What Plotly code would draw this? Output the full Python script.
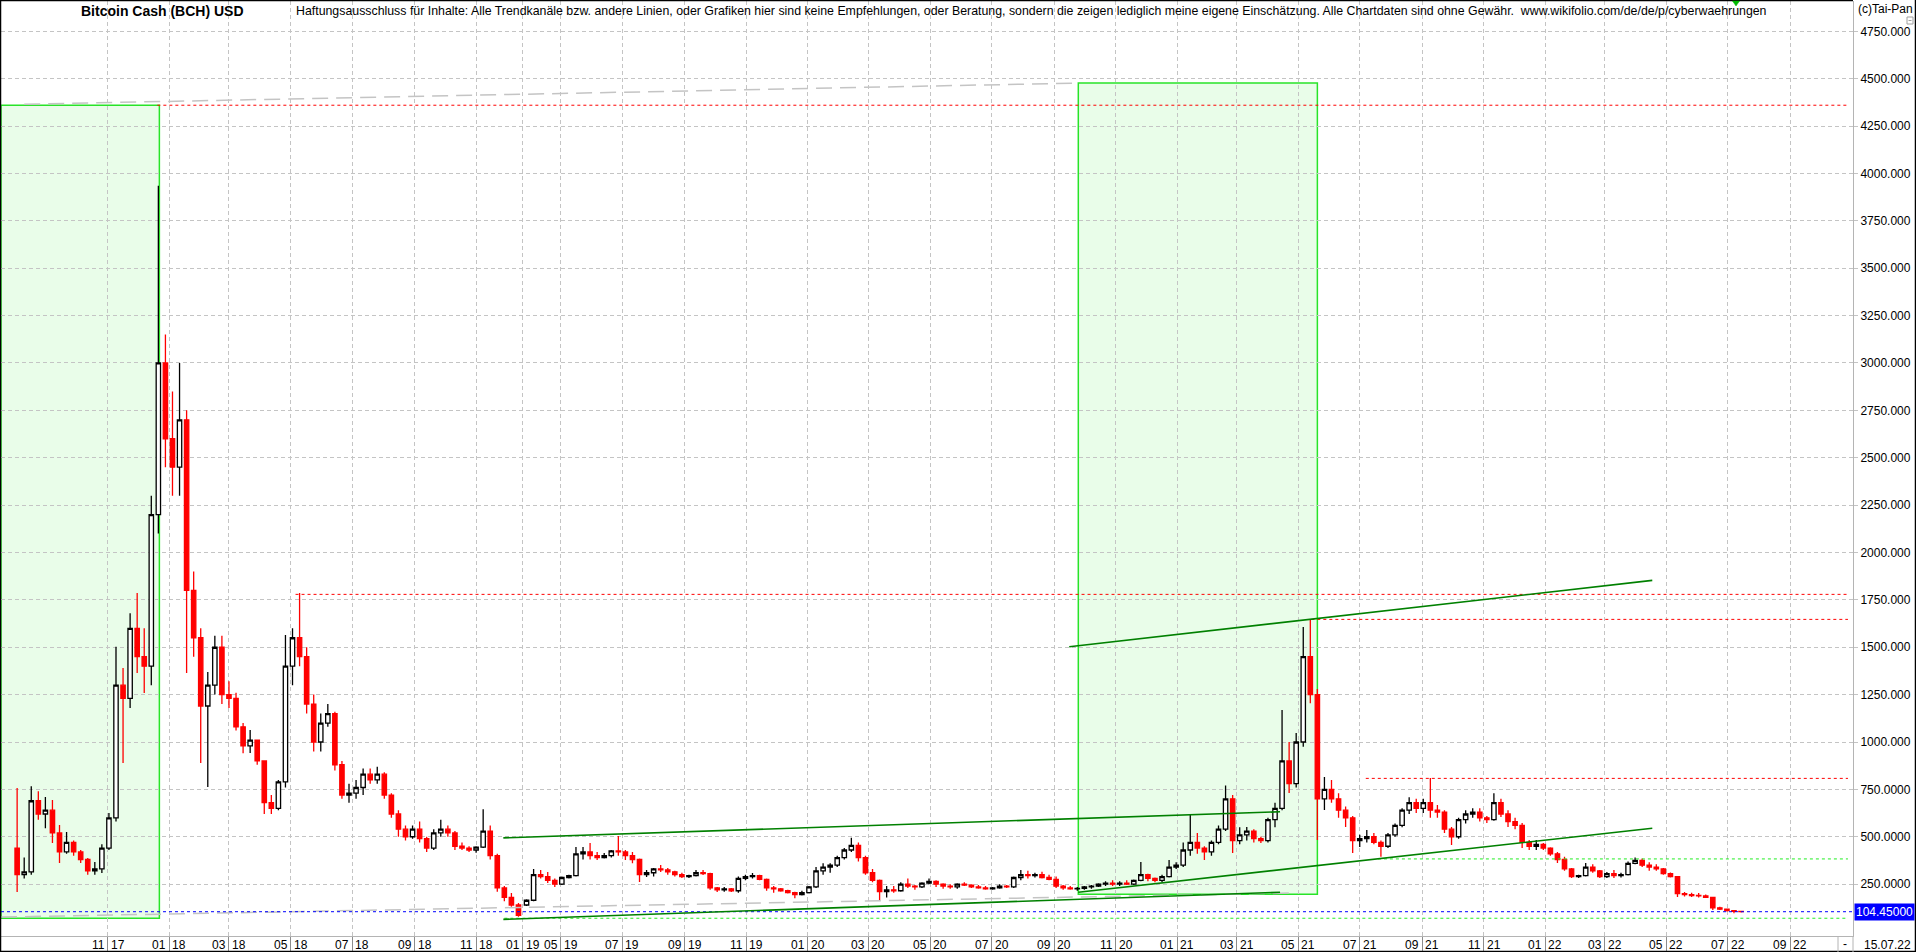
import pandas as pd
import plotly.graph_objects as go

# ------------------------------------------------------------------ data
# weekly candles (mid-week dates); the data source has no bars between the two segments
seg1_start, seg1_end = "2017-08-03", "2018-12-13"
seg2_start, seg2_end = "2019-03-28", "2022-07-14"
gap_start, gap_end = "2018-12-17", "2019-03-24"

open_1 = [440, 300, 315, 690, 620, 640, 520, 420, 470, 420, 380, 320, 330, 440, 600, 1300, 1230, 1600, 1450, 1400,
          2200, 3000, 2600, 2450, 2700, 1800, 1550, 1190, 1300, 1500, 1250, 1230, 1080, 980, 1010, 900, 680, 650, 790, 1400,
          1550, 1450, 1200, 1000, 1100, 1150, 880, 720, 730, 760, 830, 800, 830, 720, 620, 540, 500, 540, 490, 440,
          520, 540, 520, 450, 440, 430, 445, 530, 400, 230, 180, 140]
high_1 = [757, 390, 767, 740, 710, 694, 562, 525, 480, 430, 388, 367, 460, 625, 1503, 1390, 1680, 1786, 1600, 2300,
          3935, 3150, 2850, 3000, 2750, 1900, 1600, 1370, 1560, 1560, 1320, 1260, 1100, 1063, 1010, 900, 720, 800, 1565, 1600,
          1786, 1500, 1250, 1150, 1200, 1160, 900, 780, 800, 860, 860, 870, 840, 730, 640, 560, 560, 580, 500, 540,
          590, 560, 530, 470, 450, 450, 645, 560, 410, 240, 203, 150]
low_1 = [209, 280, 300, 590, 545, 467, 361, 410, 400, 361, 300, 300, 309, 430, 580, 889, 1180, 1364, 1258, 1300,
         2100, 2450, 2300, 2300, 1364, 1450, 889, 763, 1250, 1200, 1180, 1060, 940, 942, 880, 620, 620, 640, 760, 1300,
         1400, 1150, 950, 950, 1080, 850, 700, 680, 700, 720, 780, 780, 700, 600, 500, 480, 490, 470, 420, 430,
         500, 500, 430, 430, 420, 415, 440, 380, 210, 160, 130, 78]
close_1 = [300, 315, 690, 620, 640, 520, 420, 470, 420, 380, 320, 330, 440, 600, 1300, 1230, 1600, 1450, 1400, 2200,
           3000, 2600, 2450, 2700, 1800, 1550, 1190, 1300, 1500, 1250, 1230, 1080, 980, 1010, 900, 680, 650, 790, 1400, 1550,
           1450, 1200, 1000, 1100, 1150, 880, 720, 730, 760, 830, 800, 830, 720, 620, 540, 500, 540, 490, 440, 520,
           540, 520, 450, 440, 430, 445, 530, 400, 230, 180, 140, 85]

open_2 = [140, 165, 300, 290, 270, 250, 285, 295, 410, 420, 400, 390, 400, 425, 420, 400, 380, 300, 310, 330,
          325, 315, 300, 290, 295, 310, 305, 230, 220, 225, 215, 280, 290, 295, 275, 230, 225, 215, 205, 195,
          205, 235, 320, 340, 350, 390, 430, 455, 390, 310, 270, 210, 220, 215, 250, 240, 235, 255, 265, 250,
          240, 235, 250, 245, 235, 230, 225, 230, 240, 235, 285, 300, 295, 300, 285, 275, 240, 230, 225, 228,
          235, 240, 250, 255, 250, 255, 250, 270, 300, 280, 270, 290, 340, 350, 430, 470, 440, 420, 470, 540,
          700, 480, 510, 530, 490, 480, 590, 650, 900, 780, 1000, 1450, 1250, 700, 750, 700, 640, 600, 480, 490,
          500, 470, 450, 510, 560, 640, 680, 650, 680, 640, 630, 540, 500, 590, 620, 630, 600, 590, 680, 620,
          580, 560, 470, 450, 460, 440, 410, 380, 330, 290, 295, 340, 320, 290, 305, 295, 300, 360, 375, 350,
          340, 330, 305, 290, 200, 195, 190, 188, 180, 125, 118, 110, 106]
high_2 = [170, 330, 324, 314, 280, 290, 300, 446, 446, 467, 420, 414, 430, 504, 430, 420, 385, 324, 335, 351,
          335, 320, 310, 300, 324, 324, 310, 235, 235, 230, 290, 300, 309, 300, 280, 240, 230, 220, 210, 215,
          240, 340, 360, 360, 400, 440, 495, 470, 400, 330, 275, 240, 240, 260, 280, 245, 260, 280, 270, 255,
          250, 255, 260, 250, 245, 240, 235, 250, 245, 290, 325, 320, 310, 315, 300, 290, 245, 240, 235, 240,
          245, 255, 265, 270, 265, 270, 275, 367, 305, 285, 300, 377, 365, 470, 615, 520, 450, 480, 560, 770,
          720, 550, 551, 540, 500, 600, 680, 1169, 1000, 1047, 1607, 1644, 1280, 815, 800, 730, 660, 610, 510, 535,
          520, 480, 520, 570, 650, 709, 700, 700, 810, 667, 640, 551, 600, 640, 651, 650, 610, 730, 700, 640,
          600, 572, 483, 483, 467, 445, 420, 394, 335, 300, 361, 355, 325, 314, 324, 310, 370, 390, 385, 365,
          355, 335, 312, 290, 209, 205, 203, 195, 180, 130, 120, 113, 110]
low_2 = [135, 160, 280, 256, 235, 245, 280, 290, 380, 380, 377, 385, 390, 400, 377, 360, 261, 288, 290, 314,
         300, 290, 282, 282, 290, 298, 220, 209, 210, 209, 205, 270, 280, 270, 215, 205, 210, 200, 175, 190,
         200, 230, 300, 310, 340, 380, 420, 370, 300, 260, 165, 180, 205, 210, 230, 220, 230, 250, 235, 225,
         225, 225, 240, 230, 225, 220, 220, 225, 230, 230, 270, 280, 285, 280, 270, 230, 220, 220, 215, 220,
         225, 235, 240, 240, 240, 245, 245, 265, 265, 260, 260, 285, 330, 340, 400, 410, 377, 400, 460, 530,
         414, 460, 480, 470, 467, 470, 550, 640, 731, 760, 975, 1205, 483, 641, 680, 600, 551, 414, 446, 470,
         460, 394, 440, 500, 550, 620, 625, 625, 600, 600, 520, 456, 490, 570, 600, 580, 572, 585, 604, 551,
         540, 440, 430, 430, 430, 400, 361, 320, 282, 282, 290, 310, 282, 282, 282, 285, 295, 355, 340, 320,
         320, 300, 285, 182, 185, 182, 180, 177, 113, 113, 105, 97, 100]
close_2 = [165, 300, 290, 270, 250, 285, 295, 410, 420, 400, 390, 400, 425, 420, 400, 380, 300, 310, 330, 325,
           315, 300, 290, 295, 310, 305, 230, 220, 225, 215, 280, 290, 295, 275, 230, 225, 215, 205, 195, 205,
           235, 320, 340, 350, 390, 430, 455, 390, 310, 270, 210, 220, 215, 250, 240, 235, 255, 265, 250, 240,
           235, 250, 245, 235, 230, 225, 230, 240, 235, 285, 300, 295, 300, 285, 275, 240, 230, 225, 228, 235,
           240, 250, 255, 250, 255, 250, 270, 300, 280, 270, 290, 340, 350, 430, 470, 440, 420, 470, 540, 700,
           480, 510, 530, 490, 480, 590, 650, 900, 780, 1000, 1450, 1250, 700, 750, 700, 640, 600, 480, 490, 500,
           470, 450, 510, 560, 640, 680, 650, 680, 640, 630, 540, 500, 590, 620, 630, 600, 590, 680, 620, 580,
           560, 470, 450, 460, 440, 410, 380, 330, 290, 295, 340, 320, 290, 305, 295, 300, 360, 375, 350, 340,
           330, 305, 290, 200, 195, 190, 188, 180, 125, 118, 110, 106, 104.45]

# drawn zones (light green boxes)
zone_from = ["2017-07-18", "2020-09-25"]
zone_to = ["2017-12-22", "2021-05-20"]
zone_low = [70, 196]
zone_high = [4360, 4477]

# horizontal resistance (red dashed) and support (green dashed) levels
res_level = [4360, 1779, 1647, 808]
res_from = ["2017-12-20", "2018-05-06", "2021-05-14", "2021-07-07"]
sup_level = [383, 70]
sup_from = ["2021-07-19", "2018-11-29"]
level_to = "2022-10-28"

# trend lines (dark green)
trend_x0 = ["2018-11-28", "2018-11-28", "2020-09-25", "2020-09-16"]
trend_y0 = [494, 64, 207, 1503]
trend_x1 = ["2021-04-13", "2021-04-13", "2022-04-17", "2022-04-17"]
trend_y1 = [632, 207, 545, 1853]

# grey projection lines
grey_x0 = ["2017-08-10", "2017-07-18"]
grey_y0 = [4365, 76]
grey_x1 = ["2020-09-25", "2021-04-24"]
grey_y1 = [4477, 203]

x_tick_labels = ["11/17", "01/18", "03/18", "05/18", "07/18", "09/18", "11/18", "01/19", "05/19", "07/19",
                 "09/19", "11/19", "01/20", "03/20", "05/20", "07/20", "09/20", "11/20", "01/21", "03/21",
                 "05/21", "07/21", "09/21", "11/21", "01/22", "03/22", "05/22", "07/22", "09/22"]
y_tick_values = [250, 500, 750, 1000, 1250, 1500, 1750, 2000, 2250, 2500, 2750, 3000, 3250, 3500, 3750,
                 4000, 4250, 4500, 4750]
y_tick_labels = ["250.0000", "500.0000", "750.0000", "1000.000", "1250.000", "1500.000", "1750.000",
                 "2000.000", "2250.000", "2500.000", "2750.000", "3000.000", "3250.000", "3500.000",
                 "3750.000", "4000.000", "4250.000", "4500.000", "4750.000"]
x_range = ["2017-07-18", "2022-11-02"]
y_range = [-23.7, 4910]
last_date_label = "15.07.22"

# ------------------------------------------------------------------ build
dates = list(pd.date_range(seg1_start, seg1_end, freq="7D")) + list(pd.date_range(seg2_start, seg2_end, freq="7D"))
opens, highs, lows, closes = open_1 + open_2, high_1 + high_2, low_1 + low_2, close_1 + close_2
assert len(dates) == len(opens) == len(highs) == len(lows) == len(closes)

W, H = 1916, 952
ML, MR, MT, MB = 1, 63, 1, 16
PW, PH = W - ML - MR, H - MT - MB


def px(xp):
    return (xp - ML) / PW


def py(yp):
    return 1 - (yp - MT) / PH


FONT = "Liberation Sans, Arial, sans-serif"
fig = go.Figure()

# grey projection lines (behind)
for a, b, c, d in zip(grey_x0, grey_y0, grey_x1, grey_y1):
    fig.add_trace(go.Scatter(x=[a, c], y=[b, d], mode="lines", hoverinfo="skip",
                             line=dict(color="#c4c4c4", width=1.5, dash="16px,8px")))

fig.add_trace(go.Candlestick(
    x=dates, open=opens, high=highs, low=lows, close=closes,
    increasing=dict(line=dict(color="black", width=1.3), fillcolor="white"),
    decreasing=dict(line=dict(color="red", width=1.3), fillcolor="red"),
    whiskerwidth=0, hoverinfo="skip"))

# levels
for lv, f in zip(res_level, res_from):
    fig.add_trace(go.Scatter(x=[f, level_to], y=[lv, lv], mode="lines", hoverinfo="skip",
                             line=dict(color="#ff0000", width=1, dash="3px,3px")))
for lv, f in zip(sup_level, sup_from):
    fig.add_trace(go.Scatter(x=[f, level_to], y=[lv, lv], mode="lines", hoverinfo="skip",
                             line=dict(color="#22ee22", width=1, dash="3px,3px")))
last_close = closes[-1]
fig.add_trace(go.Scatter(x=[x_range[0], x_range[1]], y=[last_close, last_close], mode="lines", hoverinfo="skip",
                         line=dict(color="#0000ff", width=1, dash="3px,3px")))
for a, b, c, d in zip(trend_x0, trend_y0, trend_x1, trend_y1):
    fig.add_trace(go.Scatter(x=[a, c], y=[b, d], mode="lines", hoverinfo="skip",
                             line=dict(color="#008000", width=1.6)))

shapes = []
for a, b, lo, hi in zip(zone_from, zone_to, zone_low, zone_high):
    shapes.append(dict(type="rect", xref="x", yref="y", x0=a, x1=b, y0=lo, y1=hi, layer="below",
                       fillcolor="rgb(233,253,233)", line=dict(color="rgb(40,228,40)", width=1.5)))
# frame and small decorations
tri_x, tri_y = 1736, 1
shapes += [
    dict(type="line", xref="paper", yref="paper", x0=px(0), x1=px(1853), y0=py(0.5), y1=py(0.5),
         line=dict(color="black", width=1.5)),
    dict(type="line", xref="paper", yref="paper", x0=px(0.5), x1=px(0.5), y0=py(0), y1=py(952),
         line=dict(color="black", width=1.5)),
    dict(type="line", xref="paper", yref="paper", x0=px(1915.5), x1=px(1915.5), y0=py(0), y1=py(952),
         line=dict(color="black", width=1.5)),
    dict(type="line", xref="paper", yref="paper", x0=px(0), x1=px(1916), y0=py(951.5), y1=py(951.5),
         line=dict(color="black", width=1.5)),
    dict(type="line", xref="paper", yref="paper", x0=px(1853), x1=px(1853), y0=py(936), y1=py(952),
         line=dict(color="#b4b4b4", width=1)),
    dict(type="line", xref="paper", yref="paper", x0=px(1838), x1=px(1838), y0=py(936), y1=py(952),
         line=dict(color="#b4b4b4", width=1)),
    dict(type="rect", xref="paper", yref="paper", x0=px(1907), x1=px(1913), y0=py(24), y1=py(17),
         line=dict(color="#a0a0a0", width=1)),
    dict(type="line", xref="paper", yref="paper", x0=px(1908.5), x1=px(1911.5), y0=py(20.5), y1=py(20.5),
         line=dict(color="#a0a0a0", width=1)),
    dict(type="path", xref="paper", yref="paper",
         path=f"M {px(tri_x - 3.5)} {py(tri_y)} L {px(tri_x + 3.5)} {py(tri_y)} L {px(tri_x)} {py(tri_y + 5)} Z",
         fillcolor="rgb(0,185,0)", line=dict(color="rgb(0,185,0)", width=0.5)),
]

# x tick positions (first day of month; months inside the data gap go to the gap end)
gs, ge = pd.Timestamp(gap_start), pd.Timestamp(gap_end)
tick_dates = []
for lab in x_tick_labels:
    mm, yy = lab.split("/")
    d = pd.Timestamp(f"20{yy}-{mm}-01")
    if gs <= d < ge:
        d = ge
    tick_dates.append(d)

ann = []
for d, lab in zip(tick_dates, x_tick_labels):
    mm, yy = lab.split("/")
    ann.append(dict(x=d, xref="x", y=py(944.5), yref="paper", text=mm, showarrow=False,
                    xanchor="right", yanchor="middle", xshift=-1, font=dict(size=12, color="black", family=FONT)))
    ann.append(dict(x=d, xref="x", y=py(944.5), yref="paper", text=yy, showarrow=False,
                    xanchor="left", yanchor="middle", xshift=1, font=dict(size=12, color="black", family=FONT)))

ann += [
    dict(x=px(79), y=py(11), xref="paper", yref="paper", text="<b>Bitcoin Cash (BCH) USD</b>", showarrow=False,
         xanchor="left", yanchor="middle", font=dict(size=14, color="black", family=FONT)),
    dict(x=px(294), y=py(11), xref="paper", yref="paper",
         text="Haftungsausschluss für Inhalte: Alle Trendkanäle bzw. andere Linien, oder Grafiken hier sind keine "
              "Empfehlungen, oder Beratung, sondern die zeigen lediglich meine eigene Einschätzung. Alle Chartdaten "
              "sind ohne Gewähr.&nbsp; www.wikifolio.com/de/de/p/cyberwaehrungen",
         showarrow=False, xanchor="left", yanchor="middle", font=dict(size=12.35, color="black", family=FONT)),
    dict(x=px(1856), y=py(9), xref="paper", yref="paper", text="(c)Tai-Pan", showarrow=False,
         xanchor="left", yanchor="middle", font=dict(size=12, color="black", family=FONT)),
    dict(x=px(1862), y=py(944.5), xref="paper", yref="paper", text=last_date_label, showarrow=False,
         xanchor="left", yanchor="middle", font=dict(size=12, color="black", family=FONT)),
    dict(x=px(1845), y=py(944), xref="paper", yref="paper", text="-", showarrow=False,
         xanchor="center", yanchor="middle", font=dict(size=12, color="black", family=FONT)),
    dict(x=1, xref="paper", y=last_close, yref="y", text=f"{last_close:.5f}", showarrow=False,
         xanchor="left", yanchor="middle", xshift=1, bgcolor="#0000ff", borderpad=1,
         font=dict(size=12, color="white", family=FONT)),
]

fig.update_layout(
    width=W, height=H, margin=dict(l=ML, r=MR, t=MT, b=MB, pad=0),
    paper_bgcolor="white", plot_bgcolor="white", showlegend=False, boxgap=0.12,
    shapes=shapes, annotations=ann,
    xaxis=dict(type="date", range=x_range, rangebreaks=[dict(bounds=[gap_start, gap_end])],
               rangeslider=dict(visible=False), tickvals=tick_dates, showticklabels=False,
               ticks="outside", ticklen=16, tickcolor="#8c8c8c", tickwidth=1,
               showgrid=True, gridcolor="#c4c4c4", griddash="4px,3px", gridwidth=1,
               showline=True, linecolor="#b4b4b4", linewidth=1, zeroline=False, fixedrange=True),
    yaxis=dict(side="right", range=y_range, tickvals=y_tick_values, ticktext=y_tick_labels,
               ticks="outside", ticklen=4, tickcolor="#c4c4c4",
               showgrid=True, gridcolor="#c4c4c4", griddash="4px,3px", gridwidth=1,
               showline=True, linecolor="#b4b4b4", linewidth=1, zeroline=False,
               tickfont=dict(size=12, color="black", family=FONT), fixedrange=True),
)

fig.write_html("out.html", config={"displayModeBar": False, "staticPlot": True},
               post_script="document.body.style.margin='0';document.body.style.overflow='hidden';"
                           "document.documentElement.style.overflow='hidden';")
